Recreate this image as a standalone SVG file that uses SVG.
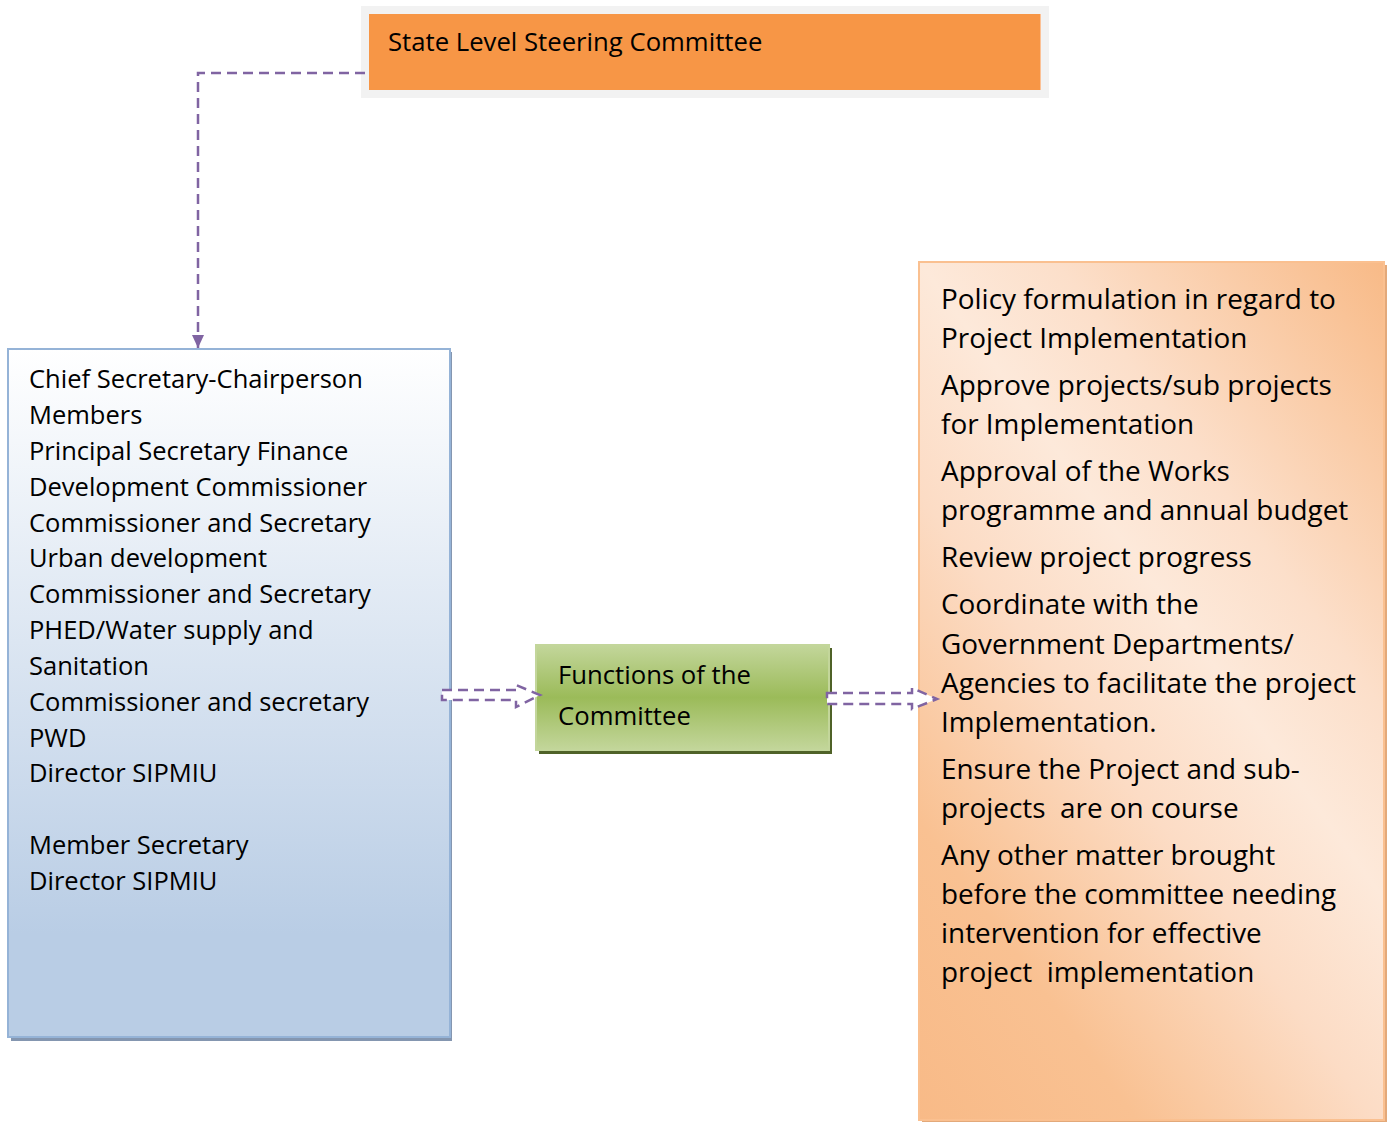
<svg xmlns="http://www.w3.org/2000/svg" width="1392" height="1122" viewBox="0 0 1392 1122">
  <defs>
    <linearGradient id="gBlue" x1="0" y1="0" x2="0" y2="1">
      <stop offset="0" stop-color="#ffffff"/>
      <stop offset="0.85" stop-color="#b9cde5"/>
      <stop offset="1" stop-color="#b9cde5"/>
    </linearGradient>
    <linearGradient id="gGreen" x1="0" y1="0" x2="0" y2="1">
      <stop offset="0" stop-color="#c3d69b"/>
      <stop offset="0.5" stop-color="#9bbb59"/>
      <stop offset="1" stop-color="#c3d69b"/>
    </linearGradient>
    <!-- diagonal peach fill: pale band from the top-left corner towards the lower right -->
    <linearGradient id="gPeach" gradientUnits="userSpaceOnUse" x1="511" y1="560" x2="1223" y2="41">
      <stop offset="0" stop-color="#f8ba87"/>
      <stop offset="0.2" stop-color="#f9c192"/>
      <stop offset="0.42" stop-color="#fcdcc5"/>
      <stop offset="0.574" stop-color="#fde9da"/>
      <stop offset="0.7" stop-color="#fcdfca"/>
      <stop offset="1" stop-color="#f8ba87"/>
    </linearGradient>
    <marker id="tri" viewBox="0 0 13 12" refX="13" refY="6" markerWidth="13" markerHeight="12" markerUnits="userSpaceOnUse" orient="auto">
      <path d="M0,0 L13,6 L0,12 Z" fill="#8064a2"/>
    </marker>
    <style>
      .txt { font-family: "Open Sans", "Liberation Sans", sans-serif; fill: #000000; }
      .lt { font-size: 25.5px; }
      .rt { font-size: 27.9px; }
      .dash { fill: none; stroke: #8064a2; stroke-width: 2.5; stroke-dasharray: 10 6; }
      .blk { fill: #ffffff; stroke: #8064a2; stroke-width: 2.5; stroke-dasharray: 10 6; }
    </style>
  </defs>

  <!-- State level committee header -->
  <g id="state-committee">
    <rect x="361" y="6" width="688" height="92" fill="#f2f2f2"/>
    <rect x="369" y="14" width="672" height="76" fill="#f79646"/>
    <line x1="1040.5" y1="14" x2="1040.5" y2="90" stroke="#fbc196" stroke-width="1"/>
    <text class="txt" x="388" y="51" font-size="25.7">State Level Steering Committee</text>
  </g>

  <!-- Membership box -->
  <g id="members">
    <rect x="11" y="352" width="441" height="689" fill="#8496b0"/>
    <rect x="8" y="349" width="442" height="688" fill="url(#gBlue)" stroke="#95b3d7" stroke-width="2"/>
    <text class="txt lt">
      <tspan x="29" y="388">Chief Secretary-Chairperson</tspan>
      <tspan x="29" y="424">Members</tspan>
      <tspan x="29" y="460">Principal Secretary Finance</tspan>
      <tspan x="29" y="496">Development Commissioner</tspan>
      <tspan x="29" y="532">Commissioner and Secretary</tspan>
      <tspan x="29" y="567">Urban development</tspan>
      <tspan x="29" y="603">Commissioner and Secretary</tspan>
      <tspan x="29" y="639">PHED/Water supply and</tspan>
      <tspan x="29" y="675">Sanitation</tspan>
      <tspan x="29" y="711">Commissioner and secretary</tspan>
      <tspan x="29" y="747">PWD</tspan>
      <tspan x="29" y="782">Director SIPMIU</tspan>
      <tspan x="29" y="854">Member Secretary</tspan>
      <tspan x="29" y="890">Director SIPMIU</tspan>
    </text>
  </g>

  <!-- Functions label box -->
  <g id="functions">
    <rect x="539" y="648" width="293" height="106" fill="#4f6228"/>
    <rect x="536" y="645" width="293" height="105" fill="url(#gGreen)" stroke="#c3d69b" stroke-width="2"/>
    <text class="txt" font-size="25.7">
      <tspan x="558" y="684">Functions of the</tspan>
      <tspan x="558" y="725">Committee</tspan>
    </text>
  </g>

  <!-- Functions list box -->
  <g id="function-list">
    <rect x="922" y="265" width="465" height="857" fill="#e3a97a"/>
    <rect x="919" y="262" width="465" height="858" fill="url(#gPeach)" stroke="#fac090" stroke-width="2"/>
    <text class="txt rt">
      <tspan x="941" y="309">Policy formulation in regard to</tspan>
      <tspan x="941" y="348">Project Implementation</tspan>
      <tspan x="941" y="395">Approve projects/sub projects</tspan>
      <tspan x="941" y="434">for Implementation</tspan>
      <tspan x="941" y="481">Approval of the Works</tspan>
      <tspan x="941" y="520">programme and annual budget</tspan>
      <tspan x="941" y="567">Review project progress</tspan>
      <tspan x="941" y="614">Coordinate with the</tspan>
      <tspan x="941" y="654">Government Departments/</tspan>
      <tspan x="941" y="693">Agencies to facilitate the project</tspan>
      <tspan x="941" y="732">Implementation.</tspan>
      <tspan x="941" y="779">Ensure the Project and sub-</tspan>
      <tspan x="941" y="818" xml:space="preserve">projects  are on course</tspan>
      <tspan x="941" y="865">Any other matter brought</tspan>
      <tspan x="941" y="904">before the committee needing</tspan>
      <tspan x="941" y="943">intervention for effective</tspan>
      <tspan x="941" y="982" xml:space="preserve">project  implementation</tspan>
    </text>
  </g>

  <!-- Connectors -->
  <g id="connectors">
    <path class="dash" d="M365,73 H198 V348" marker-end="url(#tri)"/>
    <path class="blk" d="M442,690 H516 V685 L540,695 L516,707 V700 H442 Z"/>
    <path class="blk" d="M827,693 H912 V688 L937,699 L912,709 V704 H827 Z"/>
  </g>
</svg>
